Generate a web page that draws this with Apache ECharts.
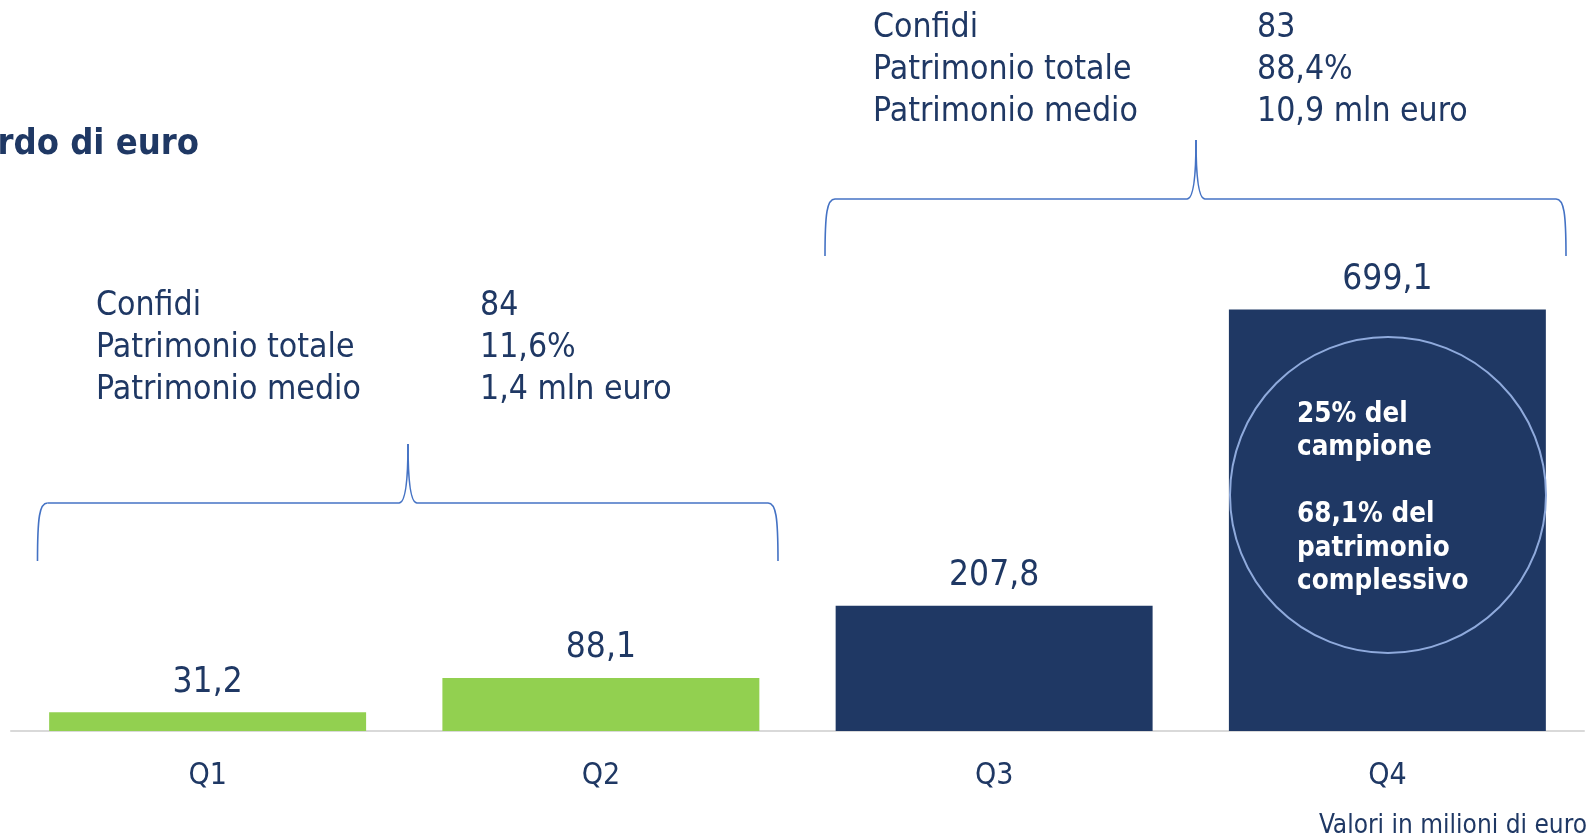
<!DOCTYPE html>
<html>
<head>
<meta charset="utf-8">
<script src="https://cdn.jsdelivr.net/npm/echarts@6/dist/echarts.min.js"></script>
<style>
  html, body { margin: 0; padding: 0; background: #fff; }
  #chart { width: 1591px; height: 837px; }
</style>
</head>
<body>
<div id="chart"></div>
<script>
// dati
var categories = ['Q1', 'Q2', 'Q3', 'Q4'];
var values = [31.2, 88.1, 207.8, 699.1];
var groupLowLabels = ['Confidi', 'Patrimonio totale', 'Patrimonio medio'];
var groupLowValues = ['84', '11,6%', '1,4 mln euro'];
var groupHighLabels = ['Confidi', 'Patrimonio totale', 'Patrimonio medio'];
var groupHighValues = ['83', '88,4%', '10,9 mln euro'];
var circleLines = ['25% del', 'campione', '', '68,1% del', 'patrimonio', 'complessivo'];
var titleText = 'miliardo di euro';
var noteText = 'Valori in milioni di euro';

var NAVY = '#1F3864';
var GREEN = '#92D050';
var BRACE = '#4472C4';
var FONT = '"DejaVu Sans Condensed", "DejaVu Sans", sans-serif';

// parentesi graffa orizzontale (punta verso l'alto), fatta di curve e linee
function brace(x0, x1, tipX, h, top, bottom) {
    var st = { fill: null, stroke: BRACE, lineWidth: 1.6 };
    function bz(a, b, c, d) {
        return { type: 'bezierCurve', silent: true, style: st,
            shape: { x1: a[0], y1: a[1], cpx1: b[0], cpy1: b[1], cpx2: c[0], cpy2: c[1], x2: d[0], y2: d[1] } };
    }
    function ln(a, b) {
        return { type: 'line', silent: true, style: st,
            shape: { x1: a[0], y1: a[1], x2: b[0], y2: b[1] } };
    }
    return [
        bz([x0, bottom], [x0, h + 14], [x0 + 2, h], [x0 + 10, h]),
        ln([x0 + 10, h], [tipX - 9, h]),
        bz([tipX - 9, h], [tipX - 3, h], [tipX, h - 22], [tipX, top]),
        bz([tipX, top], [tipX, h - 22], [tipX + 3, h], [tipX + 9, h]),
        ln([tipX + 9, h], [x1 - 10, h]),
        bz([x1 - 10, h], [x1 - 2, h], [x1, h + 14], [x1, bottom])
    ];
}

function block(x, y, lines) {
    return {
        type: 'text', x: x, y: y, silent: true,
        style: { text: lines.join('\n'), fill: NAVY, font: '33.5px ' + FONT, lineHeight: 42 }
    };
}

var myChart = echarts.init(document.getElementById('chart'));
var option = {
    backgroundColor: '#ffffff',
    animation: false,
    grid: { left: 11, right: 7, top: 309, bottom: 106 },
    xAxis: {
        type: 'category',
        data: categories,
        axisLine: { lineStyle: { color: '#D9D9D9', width: 2 } },
        axisTick: { show: false },
        axisLabel: { color: NAVY, fontSize: 30, fontFamily: FONT, margin: 30 }
    },
    yAxis: { type: 'value', min: 0, max: 700, show: false, splitLine: { show: false } },
    series: [{
        type: 'bar',
        barWidth: '80.6%',
        data: values.map(function (v, i) {
            return { value: v, itemStyle: { color: i < 2 ? GREEN : NAVY } };
        }),
        label: {
            show: true,
            position: 'top',
            distance: 12,
            color: NAVY,
            fontSize: 35,
            fontFamily: FONT,
            formatter: function (p) { return p.value.toFixed(1).replace('.', ','); }
        }
    }],
    graphic: [
        {
            type: 'text', x: 199, y: 127, silent: true,
            style: { text: titleText, fill: NAVY, font: 'bold 36px ' + FONT, align: 'right' }
        },
        block(96, 285, groupLowLabels),
        block(480, 285, groupLowValues),
        block(873, 7, groupHighLabels),
        block(1257, 7, groupHighValues),
        {
            type: 'circle', silent: true, z: 10,
            shape: { cx: 1388, cy: 495, r: 158 },
            style: { fill: null, stroke: '#8FAADC', lineWidth: 2 }
        },
        {
            type: 'text', x: 1297, y: 398, silent: true, z: 10,
            style: { text: circleLines.join('\n'), fill: '#ffffff', font: 'bold 27.5px ' + FONT, lineHeight: 33.5 }
        },
        {
            type: 'text', x: 1587, y: 813, silent: true,
            style: { text: noteText, fill: NAVY, font: '26px ' + FONT, align: 'right' }
        }
    ].concat(brace(37.5, 778, 408, 503, 444, 561), brace(825, 1566, 1196, 199, 140, 256))
};
myChart.setOption(option);
</script>
</body>
</html>
